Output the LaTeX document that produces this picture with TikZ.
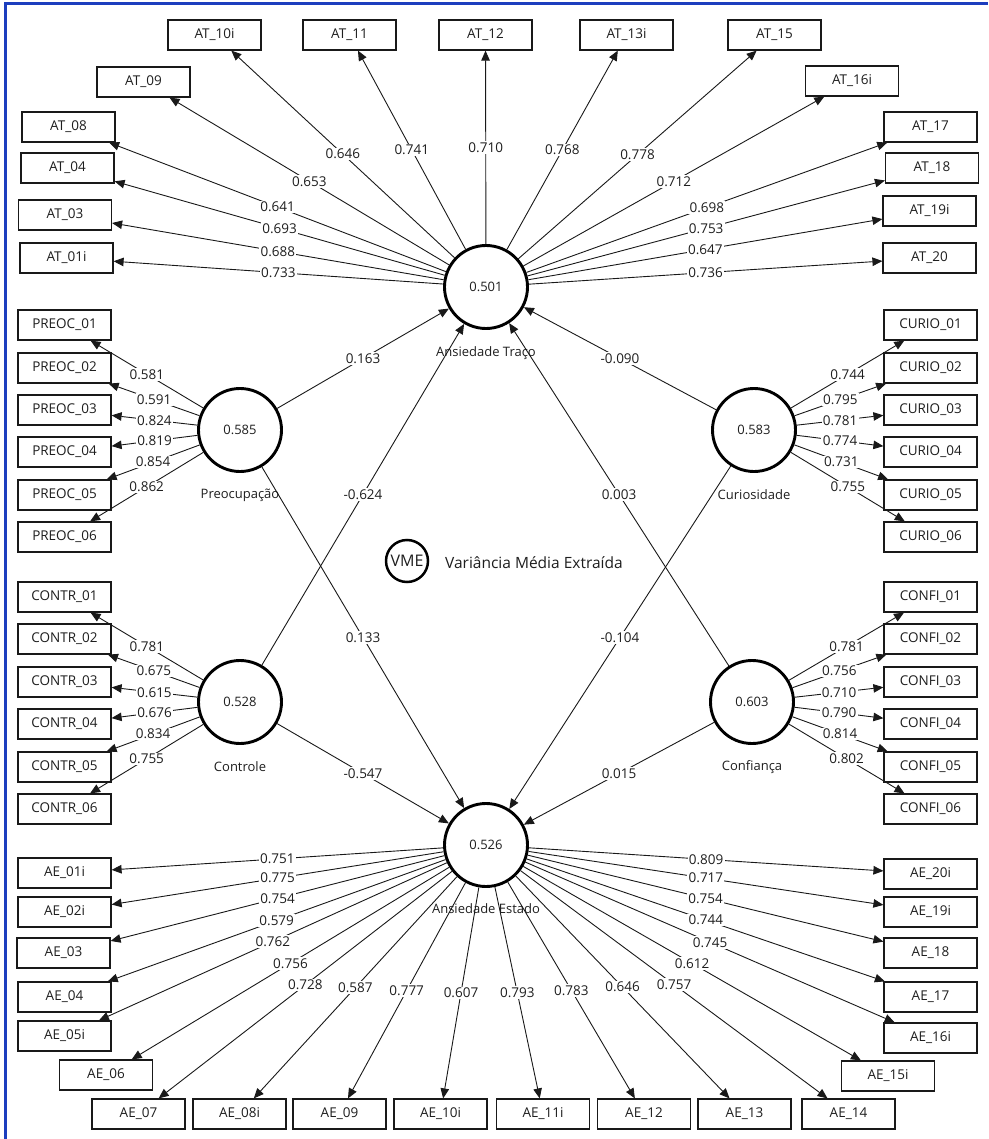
\documentclass[tikz,border=0pt]{standalone}
\usepackage{fontspec}
\setmainfont{Open Sans}
\usetikzlibrary{arrows.meta}
\definecolor{frameblue}{RGB}{28,62,190}
\definecolor{ink}{RGB}{25,25,25}
\definecolor{txt}{RGB}{30,30,30}
\tikzset{
  ind/.style={draw=ink, line width=1.2pt, minimum width=93pt, minimum height=30pt, inner sep=0pt, fill=white, text=txt, font=\fontsize{13.5}{15}\selectfont},
  lat/.style={circle, draw=black, line width=2.9pt, minimum size=83pt, inner sep=0pt, text=txt, font=\fontsize{13}{15}\selectfont},
  latname/.style={text=txt, font=\fontsize{13}{15}\selectfont},
  link/.style={draw=ink, line width=0.9pt, -{Triangle[length=10pt,width=8.5pt]}},
  wt/.style={fill=white, inner sep=1.3pt, pos=0.5, text=txt, font=\fontsize{13.5}{15}\selectfont},
  legendcirc/.style={circle, draw=black, line width=2.5pt, minimum size=42pt, inner sep=0pt, text=txt, font=\fontsize{16}{18}\selectfont},
}
\begin{document}
\begin{tikzpicture}[x=1pt,y=-1pt]
\useasboundingbox (0,0) rectangle (988,1139);
\draw[frameblue, line width=3pt] (5.5,1139) -- (5.5,3.5) -- (988,3.5);

% latent variables
\node[lat] (AT) at (486,287) {0.501};
\node[lat] (AE) at (486,845) {0.526};
\node[lat] (preoc) at (240,430) {0.585};
\node[lat] (curio) at (754,430) {0.583};
\node[lat] (contr) at (240,702) {0.528};
\node[lat] (confi) at (752,702) {0.603};

\node[latname] (ATn) at (486,353) {Ansiedade Traço};
\node[latname] (AEn) at (486,909) {Ansiedade Estado};
\node[latname] (preocn) at (240,495) {Preocupação};
\node[latname] (curion) at (754,495) {Curiosidade};
\node[latname] (contrn) at (240,767) {Controle};
\node[latname] (confin) at (752,767) {Confiança};

% legend
\node[legendcirc] (vme) at (407,561) {VME};
\node[anchor=west, text=txt, font=\fontsize{15.5}{18}\selectfont, inner sep=0pt] (vmetxt) at (445,563) {Variância Média Extraída};

% indicators: Ansiedade Traco
\foreach \nm/\tx/\x/\y in {at01/AT\_01i/66.5/258, at03/AT\_03/65/215, at04/AT\_04/67.5/168, at08/AT\_08/68.5/127, at09/AT\_09/143.5/82, at10/AT\_10i/214.5/35, at11/AT\_11/349.5/35, at12/AT\_12/485.5/35, at13/AT\_13i/626.5/35, at15/AT\_15/774.5/35, at16/AT\_16i/852/81, at17/AT\_17/930.5/127, at18/AT\_18/932/168, at19/AT\_19i/929.5/211, at20/AT\_20/929.5/258}
  {\node[ind] (\nm) at (\x,\y) {\tx};}

% Preocupacao / Curiosidade
\foreach \i/\y in {1/325, 2/368, 3/410, 4/452, 5/495, 6/537}{
  \node[ind] (pr\i) at (64.5,\y) {PREOC\_0\i};
  \node[ind] (cu\i) at (930.5,\y) {CURIO\_0\i};
}
% Controle / Confianca
\foreach \i/\y in {1/597, 2/639, 3/682, 4/724, 5/767, 6/809}{
  \node[ind] (co\i) at (64.5,\y) {CONTR\_0\i};
  \node[ind] (cf\i) at (930.5,\y) {CONFI\_0\i};
}

% indicators: Ansiedade Estado
\foreach \nm/\tx/\x/\y in {ae01/AE\_01i/64.5/873, ae02/AE\_02i/64.5/912, ae03/AE\_03/63.5/953, ae04/AE\_04/64.5/997, ae05/AE\_05i/64.5/1036, ae06/AE\_06/106/1075, ae07/AE\_07/138.5/1114, ae08/AE\_08i/239.5/1114, ae09/AE\_09/339.5/1114, ae10/AE\_10i/440.5/1114, ae11/AE\_11i/543/1114, ae12/AE\_12/644/1114, ae13/AE\_13/744.5/1114, ae14/AE\_14/848.5/1114, ae15/AE\_15i/888/1076, ae16/AE\_16i/930.5/1038, ae17/AE\_17/930.5/997, ae18/AE\_18/930.5/953, ae19/AE\_19i/930.5/912, ae20/AE\_20i/930.5/874}
  {\node[ind] (\nm) at (\x,\y) {\tx};}

% connectors (lines first)
\foreach \nm in {at01,at03,at04,at08,at09,at10,at11,at12,at13,at15,at16,at17,at18,at19,at20}
  {\draw[link] (AT) -- (\nm);}
\foreach \nm in {ae01,ae02,ae03,ae04,ae05,ae06,ae07,ae08,ae09,ae10,ae11,ae12,ae13,ae14,ae15,ae16,ae17,ae18,ae19,ae20}
  {\draw[link] (AE) -- (\nm);}
\foreach \i in {1,...,6}{
  \draw[link] (preoc) -- (pr\i);
  \draw[link] (curio) -- (cu\i);
  \draw[link] (contr) -- (co\i);
  \draw[link] (confi) -- (cf\i);
}
\draw[link] (preoc) -- (AT);
\draw[link] (preoc) -- (AE);
\draw[link] (contr) -- (AT);
\draw[link] (contr) -- (AE);
\draw[link] (curio) -- (AT);
\draw[link] (curio) -- (AE);
\draw[link] (confi) -- (AT);
\draw[link] (confi) -- (AE);

% labels on connectors
\foreach \nm/\v in {at01/0.733, at03/0.688, at04/0.693, at08/0.641, at09/0.653, at10/0.646, at11/0.741, at12/0.710, at13/0.768, at15/0.778, at16/0.712, at17/0.698, at18/0.753, at19/0.647, at20/0.736}
  {\path (AT) -- node[wt]{\v} (\nm);}
\foreach \nm/\v in {ae01/0.751, ae02/0.775, ae03/0.754, ae04/0.579, ae05/0.762, ae06/0.756, ae07/0.728, ae08/0.587, ae09/0.777, ae10/0.607, ae11/0.793, ae12/0.783, ae13/0.646, ae14/0.757, ae15/0.612, ae16/0.745, ae17/0.744, ae18/0.754, ae19/0.717, ae20/0.809}
  {\path (AE) -- node[wt]{\v} (\nm);}
\foreach \i/\v in {1/0.581, 2/0.591, 3/0.824, 4/0.819, 5/0.854, 6/0.862}
  {\path (preoc) -- node[wt]{\v} (pr\i);}
\foreach \i/\v in {1/0.744, 2/0.795, 3/0.781, 4/0.774, 5/0.731, 6/0.755}
  {\path (curio) -- node[wt]{\v} (cu\i);}
\foreach \i/\v in {1/0.781, 2/0.675, 3/0.615, 4/0.676, 5/0.834, 6/0.755}
  {\path (contr) -- node[wt]{\v} (co\i);}
\foreach \i/\v in {1/0.781, 2/0.756, 3/0.710, 4/0.790, 5/0.814, 6/0.802}
  {\path (confi) -- node[wt]{\v} (cf\i);}
\path (preoc) -- node[wt]{0.163} (AT);
\path (preoc) -- node[wt]{0.133} (AE);
\path (contr) -- node[wt]{-0.624} (AT);
\path (contr) -- node[wt]{-0.547} (AE);
\path (curio) -- node[wt]{-0.090} (AT);
\path (curio) -- node[wt]{-0.104} (AE);
\path (confi) -- node[wt]{0.003} (AT);
\path (confi) -- node[wt]{0.015} (AE);
\end{tikzpicture}
\end{document}
